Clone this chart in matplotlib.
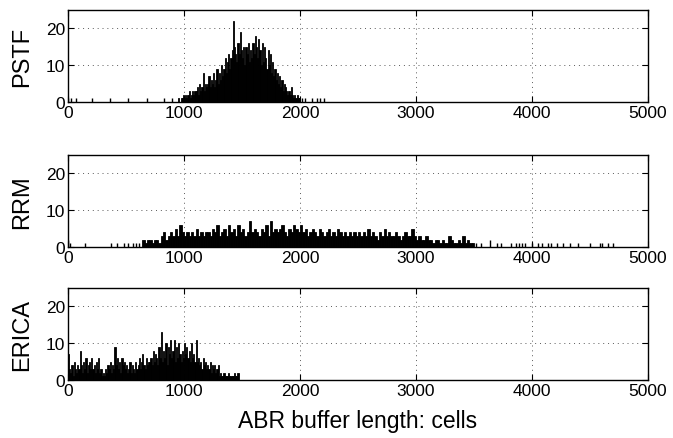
import matplotlib
matplotlib.use("Agg")
import matplotlib.pyplot as plt
import numpy as np

plt.rcParams['font.family'] = ['Liberation Sans', 'DejaVu Sans']

# ---------------- data (buffer length in cells, histogram counts) ----------------
# PSTF: dense part, bins of 10 cells starting at 950
pstf_start = 950
pstf_binw = 10
pstf_counts = [1, 0, 1, 1, 2,
               1, 2, 1, 2, 3, 1, 2, 3, 2, 3,
               3, 4, 2, 5, 3, 4, 8, 3, 5, 4,
               5, 7, 4, 6, 5, 8, 4, 6, 9, 5,
               8, 6, 10, 7, 9, 12, 8, 11, 13, 9,
               12, 14, 22, 15, 13, 11, 16, 13, 19, 14,
               12, 15, 10, 15, 13, 16, 11, 14, 12, 16,
               13, 18, 15, 12, 17, 14, 10, 16, 11, 15,
               12, 9, 14, 10, 13, 8, 11, 7, 9, 6,
               8, 5, 7, 4, 6, 3, 5, 4, 3, 2,
               3, 2, 4, 2, 1, 2, 1, 2, 1, 1]
pstf_sparse_pos = [0, 26, 69, 204, 362, 517, 678, 828, 900,
                   2014, 2040, 2100, 2143, 2172, 2210]
pstf_sparse_cnt = [1, 1, 1, 1, 1, 1, 1, 1, 1,
                   1, 1, 1, 1, 1, 1]

# RRM: dense part, bins of 20 cells starting at 640
rrm_start = 640
rrm_binw = 20
rrm_counts = [2, 1, 2, 2, 1, 2, 2, 1,
              3, 4, 2, 3, 4, 3, 5, 3, 6, 4,
              3, 4, 3, 4, 3, 5, 3, 4, 3, 4,
              4, 3, 5, 4, 6, 3, 4, 5, 3, 6,
              4, 5, 3, 6, 4, 5, 3, 4, 7, 4,
              5, 4, 3, 5, 4, 6, 3, 7, 4, 5,
              4, 5, 6, 4, 3, 5, 4, 6, 5, 4,
              6, 4, 5, 3, 4, 5, 4, 3, 5, 4,
              3, 4, 5, 3, 4, 3, 5, 4, 3, 4,
              3, 4, 3, 4, 3, 4, 3, 4, 3, 5,
              3, 4, 3, 2, 4, 3, 5, 3, 4, 3,
              3, 4, 3, 2, 3, 4, 3, 3, 5, 3,
              2, 3, 2, 2, 3, 2, 2, 1, 2, 2,
              1, 2, 1, 1, 3, 2, 1, 1, 2, 1,
              3, 1, 2, 1, 1]
rrm_sparse_pos = [0, 20, 150, 370, 420, 480, 520, 560, 590, 610,
                  3520, 3560, 3640, 3695, 3733, 3819, 3859, 3888, 3911, 3940,
                  4003, 4049, 4083, 4141, 4164, 4213, 4270, 4328, 4394,
                  4500, 4586, 4601, 4658, 4701]
rrm_sparse_cnt = [2, 1, 1, 1, 1, 1, 1, 1, 1, 1,
                  1, 1, 2, 1, 1, 1, 1, 1, 1, 1,
                  1, 1, 1, 1, 1, 1, 1, 1, 1,
                  1, 1, 1, 1, 1]

# ERICA: dense part, bins of 10 cells starting at 0
erica_start = 0
erica_binw = 10
erica_counts = [7, 3, 2, 4, 1, 5, 3, 2, 4, 3,
                8, 4, 2, 5, 3, 6, 2, 4, 5, 3,
                6, 3, 4, 2, 5, 3, 6, 2, 3, 1,
                2, 1, 3, 2, 4, 3, 5, 2, 4, 3,
                9, 4, 6, 3, 5, 2, 6, 4, 5, 3,
                4, 2, 3, 5, 2, 4, 3, 2, 5, 3,
                4, 6, 3, 5, 7, 4, 3, 6, 4, 5,
                5, 6, 4, 8, 5, 7, 6, 4, 9, 6,
                13, 5, 8, 6, 10, 4, 9, 7, 11, 6,
                8, 11, 5, 9, 6, 10, 7, 5, 8, 6,
                10, 7, 9, 6, 8, 5, 10, 6, 7, 5,
                11, 5, 6, 4, 5, 3, 6, 4, 5, 3,
                4, 3, 5, 2, 4, 3, 4, 2, 3, 4,
                1, 2, 1, 1, 2, 1, 1, 1, 2, 1,
                1, 1, 1, 2, 1, 1, 2]

series_names = ['PSTF', 'RRM', 'ERICA']
x_ticks = [0, 1000, 2000, 3000, 4000, 5000]
y_ticks = [0, 10, 20]
x_label = 'ABR buffer length: cells'

# ---------------- figure ----------------
fig = plt.figure(figsize=(6.73, 4.39), dpi=100)
W, H = 673, 439
ax_left, ax_w, ax_h = 68 / W, 580 / W, 92 / H
bottoms_px = [103, 248, 381]

series = [
    (pstf_start, pstf_binw, pstf_counts, pstf_sparse_pos, pstf_sparse_cnt),
    (rrm_start, rrm_binw, rrm_counts, rrm_sparse_pos, rrm_sparse_cnt),
    (erica_start, erica_binw, erica_counts, [], []),
]

for i, (name, (st, bw, cnts, spos, scnt)) in enumerate(zip(series_names, series)):
    ax = fig.add_axes([ax_left, 1 - bottoms_px[i] / H, ax_w, ax_h])
    edges = st + bw * np.arange(len(cnts))
    ax.bar(edges, cnts, width=bw, align='edge', color='k', edgecolor='k',
           linewidth=0.6, zorder=3)
    if spos:
        ax.vlines(spos, 0, scnt, colors='k', linewidth=1.0, zorder=3)
    ax.set_xlim(0, 5000)
    ax.set_ylim(0, 25)
    ax.set_xticks(x_ticks)
    ax.set_yticks(y_ticks)
    ax.tick_params(direction='in', length=4, width=0.8, labelsize=12.5,
                   top=True, right=True, pad=2)
    ax.grid(True, color='0.35', linestyle=(0, (1, 4)), linewidth=0.7, zorder=1)
    for sp in ax.spines.values():
        sp.set_linewidth(1.0)
    ax.set_ylabel(name, fontsize=17, labelpad=9)
    if i == 2:
        ax.set_xlabel(x_label, fontsize=16.5, labelpad=8)

fig.savefig('out.png', dpi=100)
